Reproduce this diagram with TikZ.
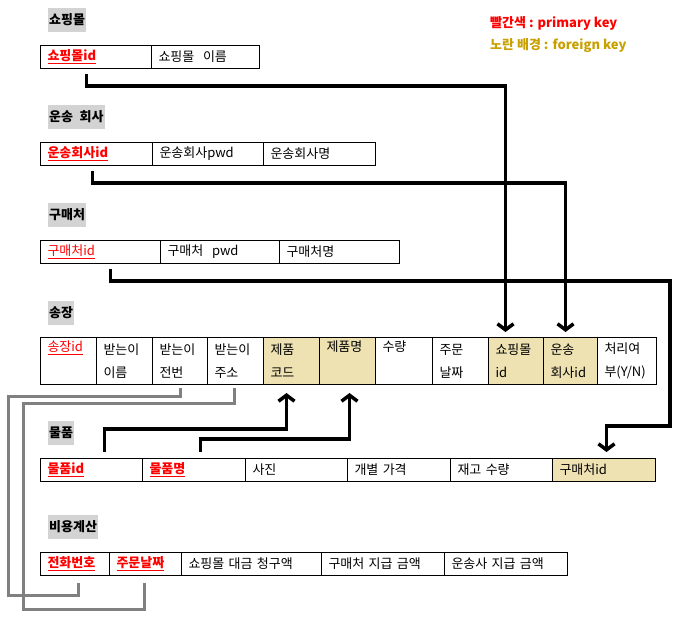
\documentclass[tikz,border=0pt]{standalone}
\usepackage{fontspec}
\setmainfont[WordSpace=2.2]{Noto Sans CJK KR}
\newfontfamily\legendfont{Noto Sans CJK KR}
\usetikzlibrary{calc,arrows.meta}
\definecolor{pkred}{RGB}{255,0,0}
\definecolor{fktan}{RGB}{238,226,178}
\definecolor{fkgold}{RGB}{200,160,0}
\definecolor{titlegray}{RGB}{211,211,211}
\definecolor{linkgray}{RGB}{128,128,128}
\newcommand{\pk}[1]{\textcolor{pkred}{\underline{#1}}}
\newcommand{\pkb}[1]{\textcolor{pkred}{\underline{\textbf{#1}}}}
\tikzset{
  cell/.style={draw, line width=1pt, anchor=north west, inner xsep=7pt, inner ysep=0pt,
    align=left, minimum height=23pt, font=\fontsize{13}{23}\selectfont},
  fkcell/.style={cell, fill=fktan},
  tall/.style={minimum height=47pt},
  title/.style={anchor=west, fill=titlegray, inner xsep=1pt, inner ysep=0pt,
    minimum height=24pt, font=\fontsize{13}{15}\selectfont\bfseries},
  legend/.style={anchor=west, inner sep=0pt, font=\legendfont\fontsize{13}{15}\selectfont\bfseries},
  link/.style={line width=3.5pt},
  arr/.style={link, -{Straight Barb[length=6pt,width=16pt]}},
  grlink/.style={line width=3pt, draw=linkgray}
}

\begin{document}
\begin{tikzpicture}[x=1pt,y=-1pt]
  \useasboundingbox (0,0) rectangle (680,624);

  %%% legend
  \node[legend, text=pkred] (lg1) at (490,23) {빨간색 : primary key};
  \node[legend, text=fkgold] (lg2) at (490,46) {노란 배경 : foreign key};

  %%% 쇼핑몰
  \node[title] (t1) at (48,20) {쇼핑몰};
  \node[cell, text width=97pt] (sm1) at (40,45) {\pkb{쇼핑몰id}};
  \node[cell, text width=94pt] (sm2) at (151,45) {쇼핑몰~~이름};

  %%% 운송 회사
  \node[title] (t2) at (48,117) {운송 회사};
  \node[cell, text width=98pt] (un1) at (40,142) {\pkb{운송회사id}};
  \node[cell, text width=97pt] (un2) at (152,142) {운송회사pwd};
  \node[cell, text width=98pt] (un3) at (263,142) {운송회사명};

  %%% 구매처
  \node[title] (t3) at (48,215) {구매처};
  \node[cell, text width=106pt] (gu1) at (40,240) {\pk{구매처id}};
  \node[cell, text width=105pt] (gu2) at (160,240) {구매처~~pwd};
  \node[cell, text width=106pt] (gu3) at (279,240) {구매처명};

  %%% 송장
  \node[title] (t4) at (48,313) {송장};
  \node[cell, tall, text width=42pt] (sj1) at (40,337) {\pk{송장id}\\\strut};
  \node[cell, tall, text width=42pt] (sj2) at (96,337) {받는이\\이름};
  \node[cell, tall, text width=41pt] (sj3) at (152,337) {받는이\\전번};
  \node[cell, tall, text width=42pt] (sj4) at (207,337) {받는이\\주소};
  \node[fkcell, tall, text width=42pt] (sj5) at (263,337) {제품\\코드};
  \node[fkcell, tall, text width=42pt] (sj6) at (319,337) {제품명\\\strut};
  \node[cell, tall, text width=43pt] (sj7) at (375,337) {수량\\\strut};
  \node[cell, tall, text width=42pt] (sj8) at (432,337) {주문\\날짜};
  \node[fkcell, tall, text width=41pt] (sj9) at (488,337) {쇼핑몰\\id};
  \node[fkcell, tall, text width=40pt] (sj10) at (543,337) {운송\\회사id};
  \node[cell, tall, text width=45pt] (sj11) at (597,337) {처리여\\부(Y/N)};

  %%% 물품
  \node[title] (t5) at (48,433) {물품};
  \node[cell, text width=88pt] (mp1) at (40,458) {\pkb{물품id}};
  \node[cell, text width=89pt] (mp2) at (142,458) {\pkb{물품명}};
  \node[cell, text width=88pt] (mp3) at (245,458) {사진};
  \node[cell, text width=89pt] (mp4) at (347,458) {개별 가격};
  \node[cell, text width=88pt] (mp5) at (450,458) {재고 수량};
  \node[fkcell, text width=89pt] (mp6) at (552,458) {구매처id};

  %%% 비용계산
  \node[title] (t6) at (48,527) {비용계산};
  \node[cell, text width=55pt] (bi1) at (40,552) {\pkb{전화번호}};
  \node[cell, text width=58pt] (bi2) at (109,552) {\pkb{주문날짜}};
  \node[cell, text width=126pt] (bi3) at (181,552) {쇼핑몰 대금 청구액};
  \node[cell, text width=109pt] (bi4) at (321,552) {구매처 지급 금액};
  \node[cell, text width=109pt] (bi5) at (444,552) {운송사 지급 금액};

  %%% foreign key links
  \coordinate (turn) at (670,426);
  \coordinate (g1) at (8,595);
  \coordinate (g2) at (23,609);

  \draw[arr] ($(sm1.south)+(-9.5,5)$) -- ++(0,12) -| ($(sj9.north)+(-10.5,-5)$);
  \draw[arr] ($(un1.south)+(-4,5)$) -- ++(0,12) -| ($(sj10.north)+(-5,-5)$);
  \draw[arr] ($(gu1.south)+(10,5)$) -- ++(0,12) -| (turn) -| ($(mp6.north)+(2.5,-6)$);
  \draw[arr] ($(mp1.north)+(13,-6)$) -- ++(0,-23) -| ($(sj5.south)+(-5,8)$);
  \draw[arr] ($(mp2.north)+(6.5,-6)$) -- ++(0,-13) -| ($(sj6.south)+(2,8)$);

  \draw[grlink] ($(sj3.south)+(0,3)$) -- ++(0,8) -| (g1) -| ($(bi1.south)+(3.5,7)$);
  \draw[grlink] ($(sj4.south)+(-1,3)$) -- ++(0,15) -| (g2) -| ($(bi2.south)+(-1,7)$);
\end{tikzpicture}
\end{document}
